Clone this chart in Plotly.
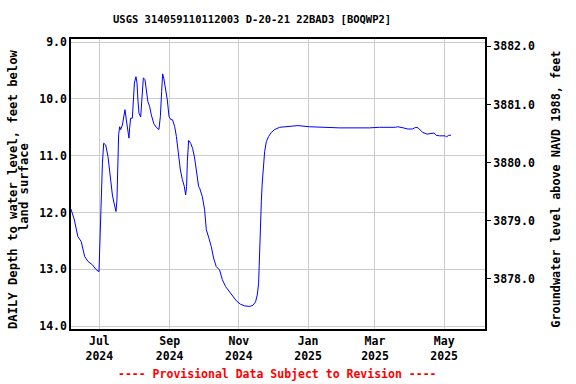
import plotly.graph_objects as go

dates = ["2024-06-06", "2024-06-09", "2024-06-12", "2024-06-15", "2024-06-18", "2024-06-21",
         "2024-06-25", "2024-06-28", "2024-06-30 16:00", "2024-07-01 14:00", "2024-07-02 19:00",
         "2024-07-03 17:00", "2024-07-04 19:00", "2024-07-06 14:00", "2024-07-08 14:00",
         "2024-07-10 16:00", "2024-07-12 12:00", "2024-07-13 22:00", "2024-07-15 16:00",
         "2024-07-16 12:00", "2024-07-17 10:00", "2024-07-18", "2024-07-18 22:00",
         "2024-07-19 19:00", "2024-07-21 07:00", "2024-07-22 10:00", "2024-07-23 14:00",
         "2024-07-24 19:00", "2024-07-26", "2024-07-27 02:00", "2024-07-27 17:00",
         "2024-07-28 14:00", "2024-07-30 02:00", "2024-07-31", "2024-07-31 22:00",
         "2024-08-02 07:00", "2024-08-03 05:00", "2024-08-04", "2024-08-04 22:00",
         "2024-08-06 10:00", "2024-08-07 14:00", "2024-08-08 19:00", "2024-08-10 05:00",
         "2024-08-11 10:00", "2024-08-12 19:00", "2024-08-14 07:00", "2024-08-15 19:00",
         "2024-08-18 02:00", "2024-08-20 05:00", "2024-08-22 12:00", "2024-08-23 19:00",
         "2024-08-24 22:00", "2024-08-25 19:00", "2024-08-26 22:00", "2024-08-28 10:00",
         "2024-08-29 22:00", "2024-08-31 10:00", "2024-09-01 19:00", "2024-09-03 14:00",
         "2024-09-05 10:00", "2024-09-06 22:00", "2024-09-08 14:00", "2024-09-10 10:00",
         "2024-09-12 05:00", "2024-09-13 22:00", "2024-09-15 02:00", "2024-09-15 22:00",
         "2024-09-16 14:00", "2024-09-17 17:00", "2024-09-19 12:00", "2024-09-21 05:00",
         "2024-09-23", "2024-09-24 19:00", "2024-09-26 12:00", "2024-09-27 10:00",
         "2024-09-29 19:00", "2024-10-01 19:00", "2024-10-03 07:00", "2024-10-05 14:00",
         "2024-10-07 17:00", "2024-10-09 17:00", "2024-10-12 02:00", "2024-10-15",
         "2024-10-17 10:00", "2024-10-20 07:00", "2024-10-23 19:00", "2024-10-26 17:00",
         "2024-10-29 17:00", "2024-11-02 07:00", "2024-11-06 02:00", "2024-11-10 12:00",
         "2024-11-13 10:00", "2024-11-15 17:00", "2024-11-17 05:00", "2024-11-18 10:00",
         "2024-11-19 07:00", "2024-11-19 22:00", "2024-11-20 19:00", "2024-11-21 14:00",
         "2024-11-22 12:00", "2024-11-23 17:00", "2024-11-25 05:00", "2024-11-27 05:00",
         "2024-11-29 14:00", "2024-12-02 12:00", "2024-12-06 22:00", "2024-12-12 19:00",
         "2024-12-23", "2025-01-02", "2025-01-17", "2025-01-29", "2025-02-24", "2025-03-05",
         "2025-03-19", "2025-03-21", "2025-03-26", "2025-03-30", "2025-04-03", "2025-04-06",
         "2025-04-08", "2025-04-10", "2025-04-12", "2025-04-16", "2025-04-20", "2025-04-22",
         "2025-04-24", "2025-04-27", "2025-05-02", "2025-05-03", "2025-05-05", "2025-05-07"]

depth_ft = [11.94, 12.13, 12.42, 12.51, 12.77, 12.86,
            12.92, 13.00, 13.04, 12.36, 11.63,
            11.13, 10.78, 10.81, 11.01,
            11.42, 11.69, 11.83, 11.98,
            11.78, 11.19, 10.63, 10.49,
            10.54, 10.46, 10.28, 10.19,
            10.37, 10.54, 10.69, 10.51,
            10.34, 10.34, 9.99, 9.72,
            9.61, 9.72, 10.02, 10.25,
            10.32, 10.05, 9.63, 9.66,
            9.81, 10.05, 10.13, 10.28,
            10.44, 10.50, 10.54, 10.31,
            9.87, 9.56, 9.65, 9.84,
            10.02, 10.31, 10.36, 10.37,
            10.49, 10.66, 10.95, 11.25,
            11.42, 11.54, 11.69, 11.54,
            11.10, 10.73, 10.78, 10.87,
            11.04, 11.31, 11.54, 11.57,
            11.72, 11.95, 12.30, 12.45,
            12.60, 12.80, 12.95, 13.01,
            13.18, 13.30, 13.39, 13.48,
            13.55, 13.61, 13.64, 13.65,
            13.63, 13.57, 13.45, 13.24,
            12.66, 12.10, 11.81, 11.48,
            11.16, 10.93, 10.75, 10.66,
            10.59, 10.54, 10.50, 10.49,
            10.47, 10.49, 10.50, 10.51, 10.51, 10.50,
            10.50, 10.49, 10.51, 10.53, 10.53, 10.50,
            10.51, 10.56, 10.59, 10.62, 10.61, 10.60,
            10.64, 10.65, 10.65, 10.67, 10.64, 10.64]

x_tick_vals = ["2024-07-01", "2024-09-01", "2024-11-01", "2025-01-01", "2025-03-01", "2025-05-01"]
x_tick_text = ["Jul<br>2024", "Sep<br>2024", "Nov<br>2024", "Jan<br>2025", "Mar<br>2025", "May<br>2025"]
left_ticks = [9.0, 10.0, 11.0, 12.0, 13.0, 14.0]
right_ticks = [3878.0, 3879.0, 3880.0, 3881.0, 3882.0]

title_text = "USGS 314059110112003 D-20-21 22BAD3 [BOQWP2]"
left_title_1 = "DAILY Depth to water level, feet below"
left_title_2 = "land surface"
right_title = "Groundwater level above NAVD 1988, feet"
footer_text = "---- Provisional Data Subject to Revision ----"

left_range = [14.047, 8.947]
right_range = [3877.139, 3882.127]

# elevation on right axis aligned with left-axis pixel positions
scale = (right_range[1] - right_range[0]) / (left_range[1] - left_range[0])
elev = [right_range[0] + (d - left_range[0]) * scale for d in depth_ft]

FONT = "DejaVu Sans Mono"

fig = go.Figure()
fig.add_trace(go.Scatter(x=dates, y=depth_ft, mode="lines",
                         line=dict(color="#0000FF", width=1), showlegend=False))
fig.add_trace(go.Scatter(x=dates, y=elev, mode="lines", yaxis="y2",
                         line=dict(color="rgba(0,0,0,0)", width=1),
                         hoverinfo="skip", showlegend=False))

fig.update_layout(
    width=576, height=384,
    margin=dict(l=71, r=91, t=39, b=55, pad=0),
    paper_bgcolor="white", plot_bgcolor="white",
    font=dict(family=FONT, size=11, color="black", weight="bold"),
    xaxis=dict(type="date", range=["2024-06-06", "2025-06-06"],
               tickvals=x_tick_vals, ticktext=x_tick_text,
               showgrid=True, gridcolor="#cccccc", gridwidth=1,
               showline=True, linecolor="black", linewidth=1.5, mirror=True,
               ticks="", zeroline=False,
               tickfont=dict(family=FONT, size=11.5, weight="bold")),
    yaxis=dict(range=left_range, tickvals=left_ticks, tickformat=".1f",
               showgrid=True, gridcolor="#cccccc", gridwidth=1,
               showline=True, linecolor="black", linewidth=1.5, mirror=True,
               ticks="", zeroline=False,
               tickfont=dict(family=FONT, size=11.5, weight="bold")),
    yaxis2=dict(range=right_range, tickvals=right_ticks, tickformat=".1f",
                overlaying="y", side="right", showgrid=False, zeroline=False,
                ticks="outside", ticklen=5, tickcolor="black", tickwidth=1,
                showline=False,
                tickfont=dict(family=FONT, size=11.5, weight="bold")),
    annotations=[
        dict(text=title_text, xref="paper", yref="paper", x=0.4365, y=1.07,
             xanchor="center", yanchor="middle", showarrow=False,
             font=dict(family=FONT, size=10.5, weight="bold")),
        dict(text=left_title_1, xref="paper", yref="paper", x=-0.1396, y=0.48,
             xanchor="center", yanchor="middle", showarrow=False, textangle=-90,
             font=dict(family=FONT, size=12.2, weight="bold")),
        dict(text=left_title_2, xref="paper", yref="paper", x=-0.1130, y=0.49,
             xanchor="center", yanchor="middle", showarrow=False, textangle=-90,
             font=dict(family=FONT, size=12.2, weight="bold")),
        dict(text=right_title, xref="paper", yref="paper", x=1.1708, y=0.483,
             xanchor="center", yanchor="middle", showarrow=False, textangle=-90,
             font=dict(family=FONT, size=11.8, weight="bold")),
        dict(text=footer_text, xref="paper", yref="paper", x=0.498, y=-0.155,
             xanchor="center", yanchor="middle", showarrow=False,
             font=dict(family=FONT, size=11.5, color="red", weight="bold")),
    ],
)

fig.write_html("out.html", config={"displayModeBar": False},
               post_script="document.body.style.margin='0';document.body.style.padding='0';")
